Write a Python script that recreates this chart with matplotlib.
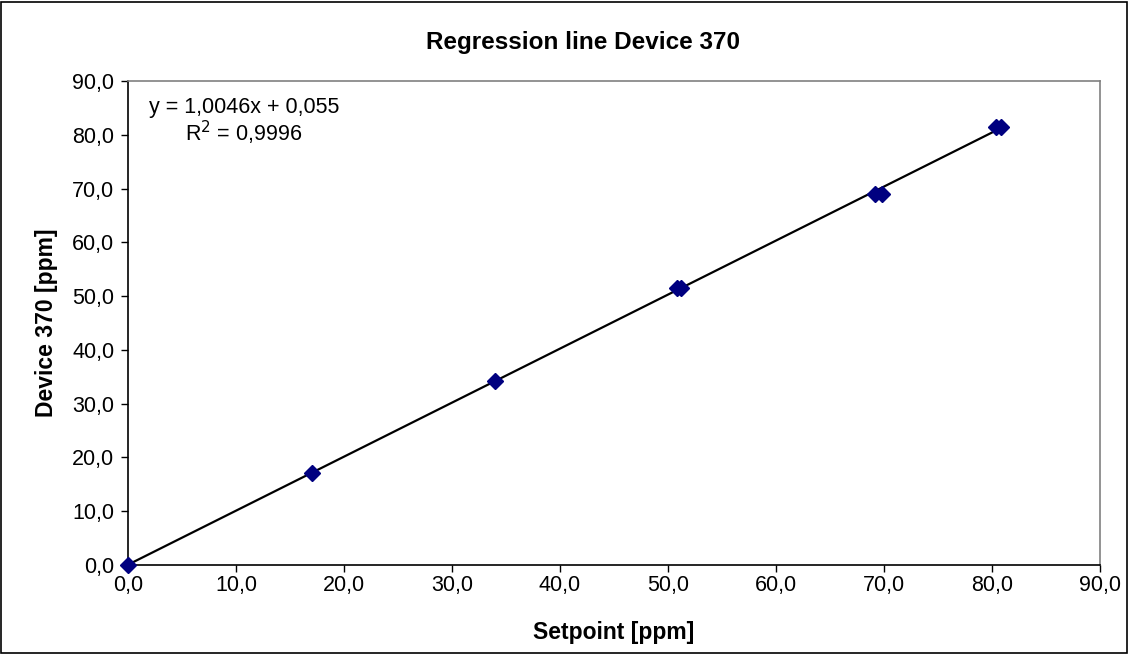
import numpy as np
import matplotlib.pyplot as plt
from matplotlib.patches import Rectangle
from matplotlib.ticker import FuncFormatter, MultipleLocator

plt.rcParams['font.family'] = ['Liberation Sans', 'DejaVu Sans']

# measured points: setpoint vs device reading
setpoint = [0.0, 17.0, 34.0, 50.8, 51.2, 69.2, 69.8, 80.4, 80.8]
device = [0.0, 17.2, 34.3, 51.6, 51.6, 68.9, 68.9, 81.4, 81.4]

slope = 1.0046
intercept = 0.055
r2 = 0.9996

fig = plt.figure(figsize=(11.29, 6.54), dpi=100)
ax = fig.add_axes([0.1134, 0.1361, 0.8609, 0.74])

xfit = np.array([min(setpoint), max(setpoint)])
ax.plot(xfit, slope * xfit + intercept, color='black', lw=1.6, zorder=2)
ax.plot(setpoint, device, 'D', color='#000080', mec='#000080', ms=8, zorder=3, clip_on=False)

ax.set_xlim(0, 90)
ax.set_ylim(0, 90)
ax.xaxis.set_major_locator(MultipleLocator(10))
ax.yaxis.set_major_locator(MultipleLocator(10))
fmt = FuncFormatter(lambda v, p: f'{v:.1f}'.replace('.', ','))
ax.xaxis.set_major_formatter(fmt)
ax.yaxis.set_major_formatter(fmt)
ax.tick_params(direction='out', length=5, width=1, labelsize=15.5, colors='black')
ax.tick_params(axis='x', pad=2)
ax.tick_params(axis='y', pad=5)

for s in ['left', 'bottom']:
    ax.spines[s].set_color('black')
    ax.spines[s].set_linewidth(1.2)
for s in ['top', 'right']:
    ax.spines[s].set_color('#808080')
    ax.spines[s].set_linewidth(1.2)

ax.set_xlabel('Setpoint [ppm]', fontsize=16.5, fontweight='bold', labelpad=18)
ax.set_ylabel('Device 370 [ppm]', fontsize=16.5, fontweight='bold', labelpad=10)
fig.text(0.516, 0.935, 'Regression line Device 370', fontsize=17.5,
         fontweight='bold', ha='center', va='center')

eq = f'y = {slope:.4f}x + {intercept:.3f}'.replace('.', ',')
ax.text(0.216, 0.835, eq, transform=fig.transFigure, fontsize=15.5, ha='center', va='center')
ax.text(0.216, 0.797, f'R$^2$ = {r2:.4f}'.replace('.', ','), transform=fig.transFigure,
        fontsize=15.5, ha='center', va='center')

fig.patches.append(Rectangle((0.001, 0.002), 0.997, 0.995, transform=fig.transFigure,
                             fill=False, edgecolor='black', lw=1.2))

fig.savefig('out.png', dpi=100)
